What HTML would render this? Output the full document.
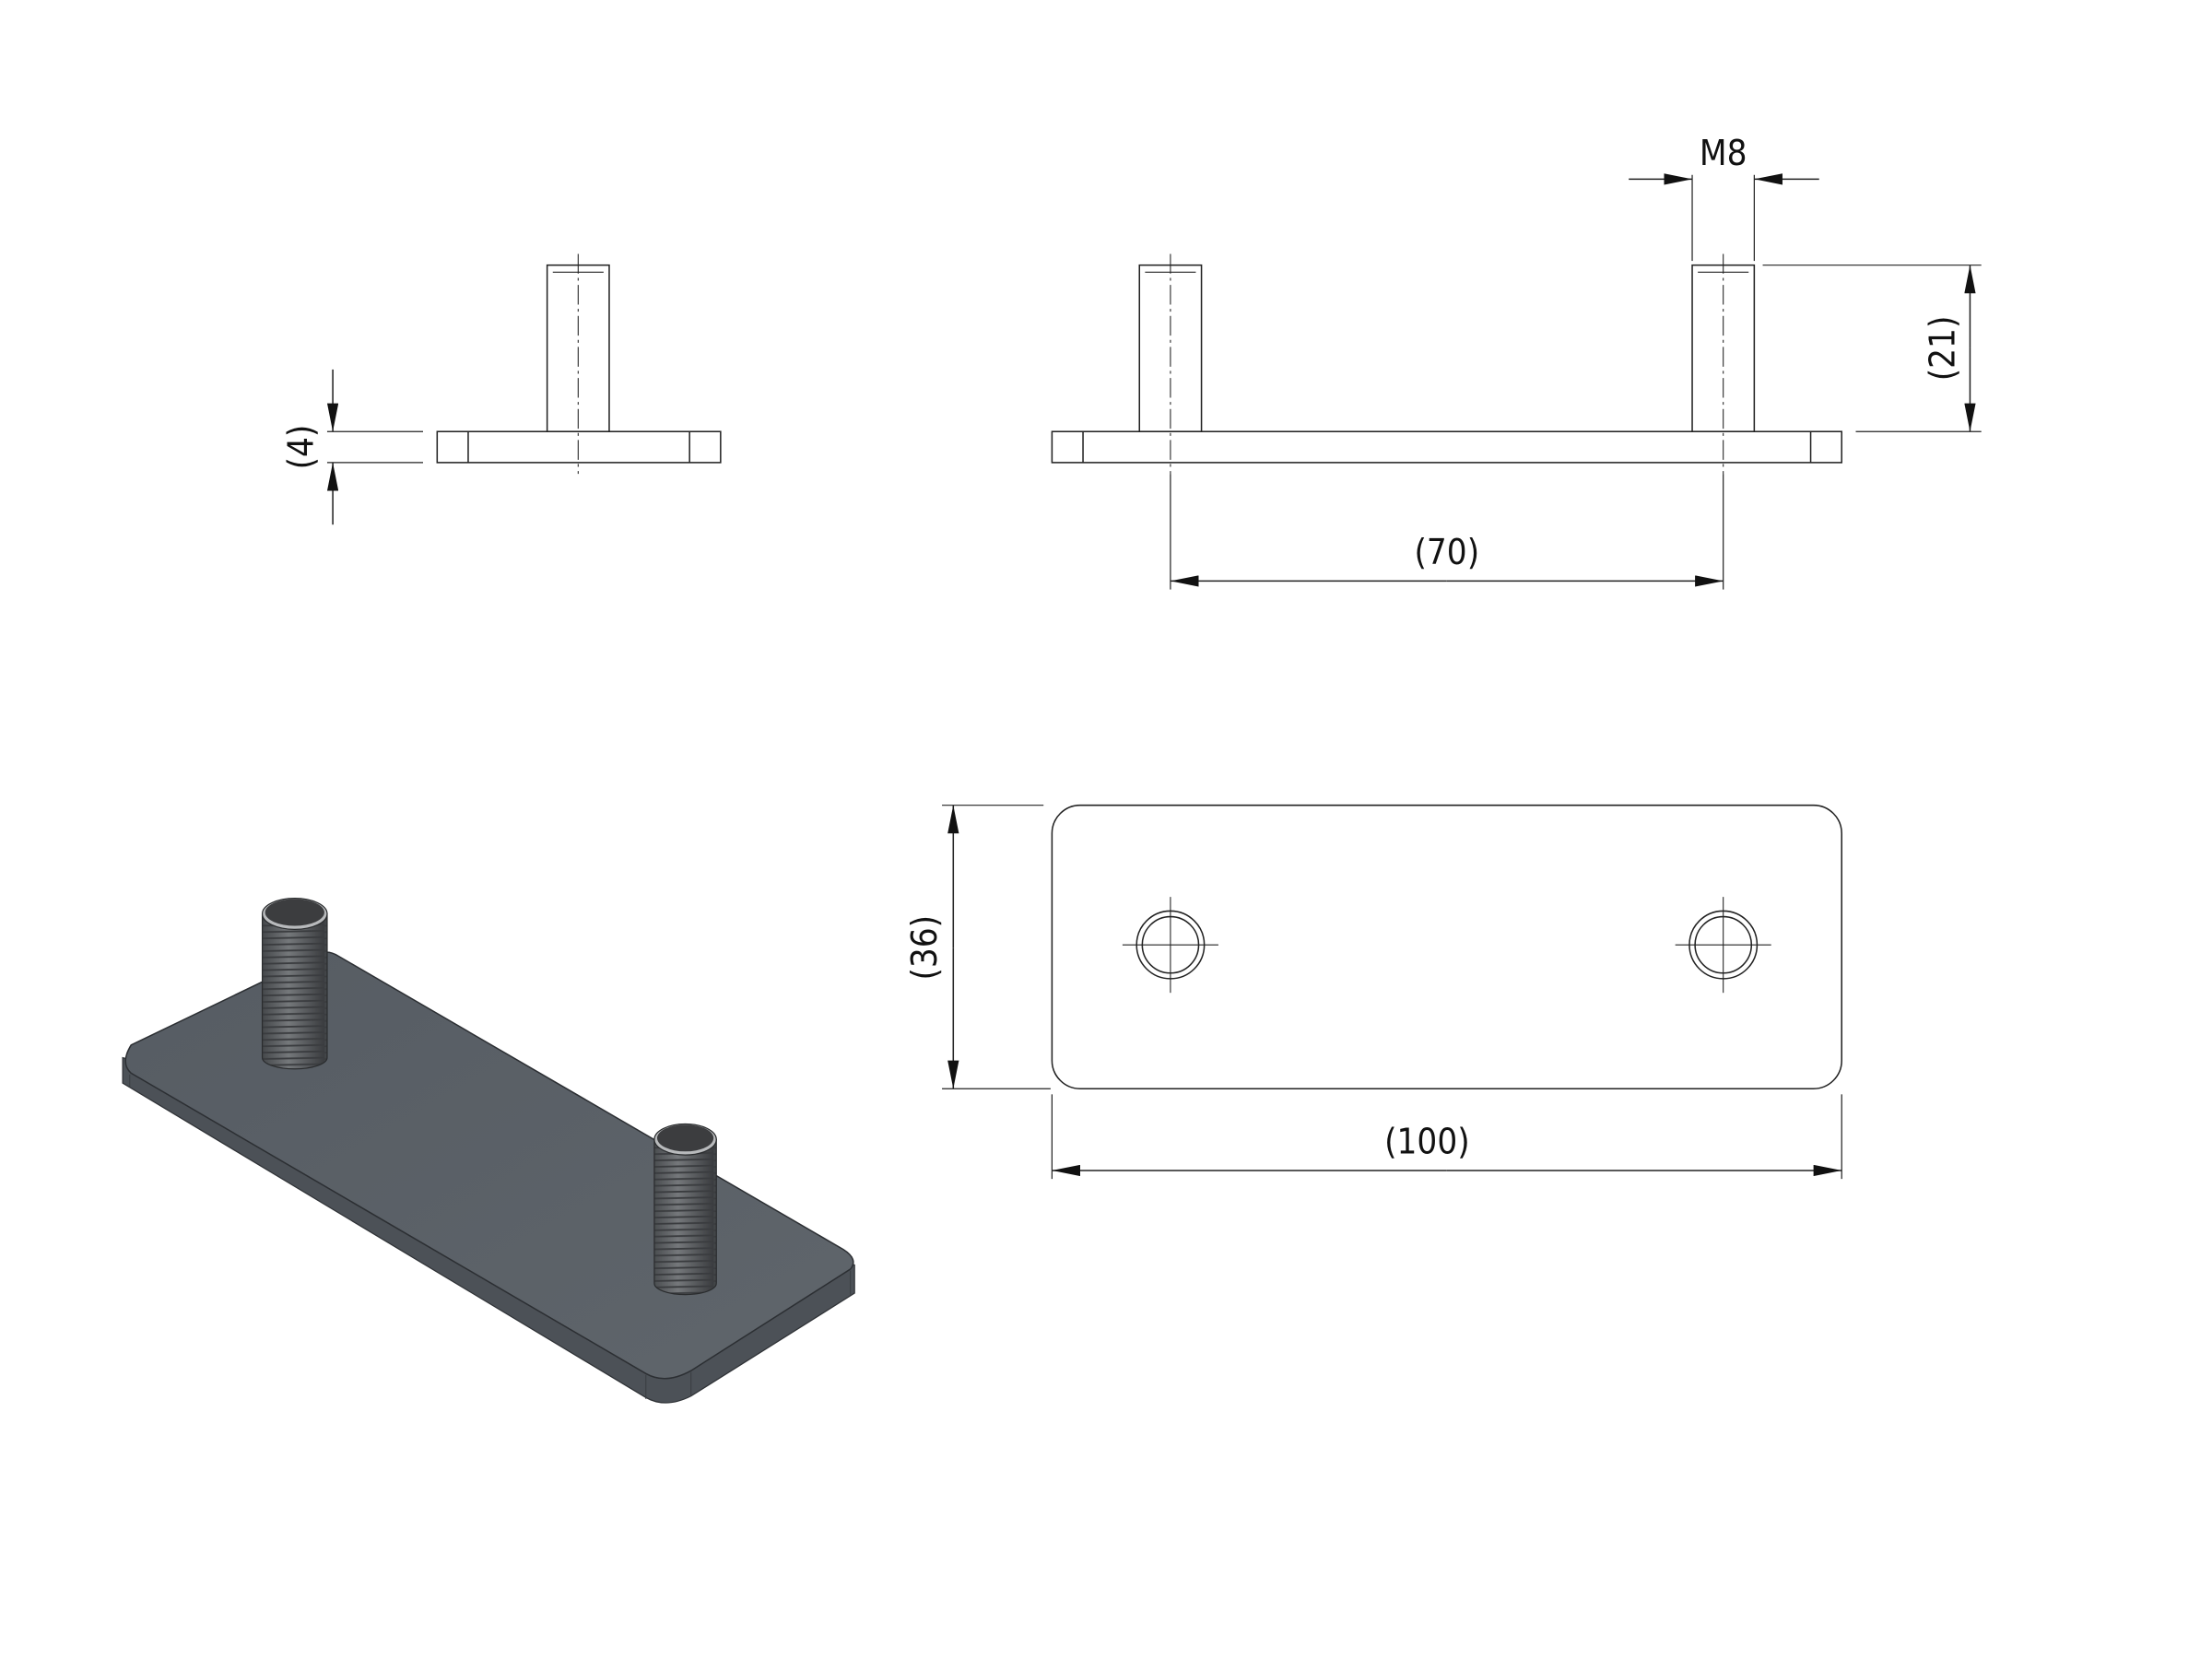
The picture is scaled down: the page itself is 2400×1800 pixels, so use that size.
<!DOCTYPE html>
<html><head><meta charset="utf-8"><style>
html,body{margin:0;padding:0;background:#fff;}
svg{display:block;}
text{font-family:"DejaVu Sans Condensed","Liberation Sans",sans-serif;font-size:25px;fill:#111;}
</style></head><body>
<svg width="2400" height="1800" viewBox="0 0 1568.6 1176.4" xmlns="http://www.w3.org/2000/svg">
<defs>
<marker id="a" viewBox="0 0 20 8" refX="20" refY="4" markerWidth="20" markerHeight="8" markerUnits="userSpaceOnUse" orient="auto-start-reverse"><path d="M0,0 L20,4 L0,8 z" fill="#111"/></marker>
<linearGradient id="th" x1="0" x2="1"><stop offset="0" stop-color="#404346"/><stop offset="0.45" stop-color="#75787b"/><stop offset="1" stop-color="#3a3c3f"/></linearGradient>
<pattern id="thr" x="0" y="0" width="46" height="4.5" patternUnits="userSpaceOnUse"><rect width="46" height="4.5" fill="url(#th)"/><line x1="0" y1="4" x2="46" y2="3" stroke="#3a3c3f" stroke-width="1.2"/></pattern>
<linearGradient id="top" x1="0" y1="0" x2="1" y2="1"><stop offset="0" stop-color="#565c63"/><stop offset="1" stop-color="#5f656b"/></linearGradient>
</defs>
<g fill="none" stroke="#222" stroke-width="1">
<rect x="310" y="306" width="201" height="22"/>
<line x1="332" y1="306" x2="332" y2="328"/><line x1="489" y1="306" x2="489" y2="328"/>
<rect x="388" y="188" width="44" height="118"/>
<line x1="392" y1="193" x2="428" y2="193" stroke-width="0.7"/>
<line x1="410" y1="180" x2="410" y2="336" stroke-dasharray="14,3,2,3" stroke-width="0.7"/>
<line x1="232" y1="306" x2="300" y2="306" stroke-width="0.8"/>
<line x1="232" y1="328" x2="300" y2="328" stroke-width="0.8"/>
<line x1="236" y1="262" x2="236" y2="306" marker-end="url(#a)"/>
<line x1="236" y1="372" x2="236" y2="328" marker-end="url(#a)"/>
<rect x="746" y="306" width="560" height="22"/>
<line x1="768" y1="306" x2="768" y2="328"/><line x1="1284" y1="306" x2="1284" y2="328"/>
<rect x="808" y="188" width="44" height="118"/>
<rect x="1200" y="188" width="44" height="118"/>
<line x1="812" y1="193" x2="848" y2="193" stroke-width="0.7"/>
<line x1="1204" y1="193" x2="1240" y2="193" stroke-width="0.7"/>
<line x1="830" y1="180" x2="830" y2="336" stroke-dasharray="14,3,2,3" stroke-width="0.7"/>
<line x1="1222" y1="180" x2="1222" y2="336" stroke-dasharray="14,3,2,3" stroke-width="0.7"/>
<line x1="830" y1="336" x2="830" y2="418" stroke-width="0.8"/>
<line x1="1222" y1="336" x2="1222" y2="418" stroke-width="0.8"/>
<line x1="1026" y1="412" x2="830" y2="412" marker-end="url(#a)"/>
<line x1="1026" y1="412" x2="1222" y2="412" marker-end="url(#a)"/>
<line x1="1250" y1="188" x2="1405" y2="188" stroke-width="0.8"/>
<line x1="1316" y1="306" x2="1405" y2="306" stroke-width="0.8"/>
<line x1="1397" y1="247" x2="1397" y2="188" marker-end="url(#a)"/>
<line x1="1397" y1="247" x2="1397" y2="306" marker-end="url(#a)"/>
<line x1="1200" y1="124" x2="1200" y2="185" stroke-width="0.8"/>
<line x1="1244" y1="124" x2="1244" y2="185" stroke-width="0.8"/>
<line x1="1155" y1="127" x2="1200" y2="127" marker-end="url(#a)"/>
<line x1="1290" y1="127" x2="1244" y2="127" marker-end="url(#a)"/>
<rect x="746" y="571" width="560" height="201" rx="20"/>
<circle cx="830" cy="670" r="24"/><circle cx="830" cy="670" r="20"/>
<circle cx="1222" cy="670" r="24"/><circle cx="1222" cy="670" r="20"/>
<line x1="796" y1="670" x2="864" y2="670" stroke-width="0.7"/><line x1="830" y1="636" x2="830" y2="704" stroke-width="0.7"/>
<line x1="1188" y1="670" x2="1256" y2="670" stroke-width="0.7"/><line x1="1222" y1="636" x2="1222" y2="704" stroke-width="0.7"/>
<line x1="668" y1="571" x2="740" y2="571" stroke-width="0.8"/>
<line x1="668" y1="772" x2="745" y2="772" stroke-width="0.8"/>
<line x1="676" y1="672" x2="676" y2="571" marker-end="url(#a)"/>
<line x1="676" y1="672" x2="676" y2="772" marker-end="url(#a)"/>
<line x1="746" y1="776" x2="746" y2="836" stroke-width="0.8"/>
<line x1="1306" y1="776" x2="1306" y2="836" stroke-width="0.8"/>
<line x1="1026" y1="830" x2="746" y2="830" marker-end="url(#a)"/>
<line x1="1026" y1="830" x2="1306" y2="830" marker-end="url(#a)"/>
</g>
<text x="1222" y="117" text-anchor="middle">M8</text>
<text x="1026" y="400" text-anchor="middle">(70)</text>
<text x="1012" y="818" text-anchor="middle">(100)</text>
<text transform="translate(222,317) rotate(-90)" text-anchor="middle">(4)</text>
<text transform="translate(1386,247) rotate(-90)" text-anchor="middle">(21)</text>
<text transform="translate(664,672) rotate(-90)" text-anchor="middle">(36)</text>
<!-- isometric plate -->
<path d="M87,750 L87,768 L458,991 Q472,999 490,990 L606,917 L606,897 Z" fill="#4c5157" stroke="#2f3236" stroke-width="0.8"/>
<path d="M93,741 L226,677 Q232,673 240,678 L598,886 Q609,893 603,900 L490,972 Q472,982 458,974 L93,761 Q85,754 93,741 Z" fill="url(#top)" stroke="#2c2f33" stroke-width="1"/>
<line x1="92" y1="762" x2="92" y2="771" stroke="#3a3e43" stroke-width="0.7"/>
<line x1="458" y1="975" x2="458" y2="992" stroke="#3a3e43" stroke-width="0.7"/>
<line x1="490" y1="973" x2="490" y2="990" stroke="#3a3e43" stroke-width="0.7"/>
<line x1="603" y1="901" x2="603" y2="918" stroke="#3a3e43" stroke-width="0.7"/>
<!-- stud 1 -->
<path d="M186,648 L186,750 A23,8 0 0 0 232,750 L232,648 Z" fill="url(#thr)" stroke="#2a2c2e" stroke-width="0.8"/>
<ellipse cx="209" cy="648" rx="23" ry="11" fill="#b8babc" stroke="#2a2c2e" stroke-width="0.8"/>
<ellipse cx="209" cy="647" rx="21" ry="9.5" fill="#3c3d3f"/>
<!-- stud 2 -->
<path d="M464,808 L464,910 A22,8 0 0 0 508,910 L508,808 Z" fill="url(#thr)" stroke="#2a2c2e" stroke-width="0.8"/>
<ellipse cx="486" cy="808" rx="22" ry="11" fill="#b8babc" stroke="#2a2c2e" stroke-width="0.8"/>
<ellipse cx="486" cy="807" rx="20" ry="9.5" fill="#3c3d3f"/>
</svg>
</body></html>
